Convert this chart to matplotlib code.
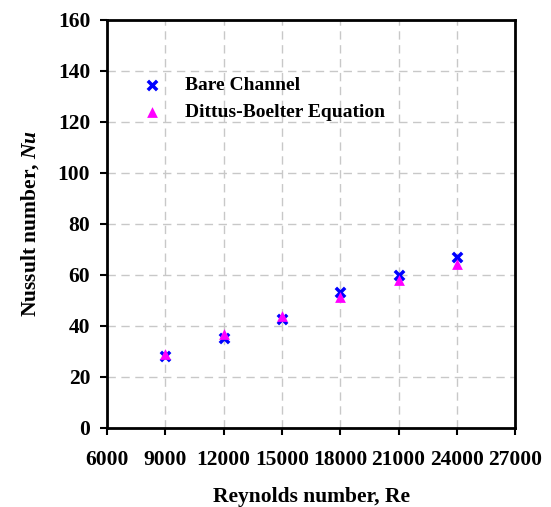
import matplotlib
matplotlib.use("Agg")
import matplotlib.pyplot as plt

re_vals = [9000, 12000, 15000, 18000, 21000, 24000]
nu_bare = [28.0, 35.2, 42.6, 53.4, 60.0, 66.9]
nu_db = [29.0, 36.7, 43.9, 51.2, 57.8, 64.4]
xticks = [6000, 9000, 12000, 15000, 18000, 21000, 24000, 27000]
yticks = [0, 20, 40, 60, 80, 100, 120, 140, 160]

plt.rcParams['font.family'] = ['Liberation Serif', 'DejaVu Serif']
plt.rcParams['font.weight'] = 'bold'
plt.rcParams['mathtext.fontset'] = 'custom'
plt.rcParams['mathtext.it'] = 'Liberation Serif:italic:bold'
plt.rcParams['mathtext.rm'] = 'Liberation Serif:bold'

fig = plt.figure(figsize=(5.51, 5.07), dpi=100)
ax = fig.add_axes([0.194, 0.156, 0.741, 0.805])

ax.scatter(re_vals, nu_bare, marker='x', color='#0000FF', s=45, linewidths=2.5,
           label='Bare Channel', zorder=2)
ax.scatter(re_vals, nu_db, marker='^', color='#FF00FF', s=60, linewidths=0,
           label='Dittus-Boelter Equation', zorder=3)

ax.set_xlim(6000, 27000)
ax.set_ylim(0, 160)
ax.set_xticks(xticks)
ax.set_yticks(yticks)
ax.tick_params(direction='out', length=5, width=1.5, labelsize=15.5)
ax.tick_params(axis='x', pad=11)
ax.tick_params(axis='y', pad=7)
for lab in ax.get_xticklabels() + ax.get_yticklabels():
    lab.set_fontweight('bold')
for s in ax.spines.values():
    s.set_linewidth(2)

ax.grid(True, color='#c8c8c8', linestyle=(0, (6, 4)), linewidth=1)
ax.set_axisbelow(True)

ax.set_xlabel('Reynolds number, Re', fontsize=15.5, fontweight='bold', labelpad=12)
ax.set_ylabel(r'Nussult number, $\mathit{Nu}$', fontsize=15.5, fontweight='bold', labelpad=12)

leg = ax.legend(loc='upper left', bbox_to_anchor=(0.062, 0.862), frameon=False,
                prop={'size': 14, 'weight': 'bold'}, handlelength=2.0,
                handletextpad=0.73, borderpad=0, borderaxespad=0,
                labelspacing=0.5, scatterpoints=1)

fig.savefig('out.png', dpi=100)
